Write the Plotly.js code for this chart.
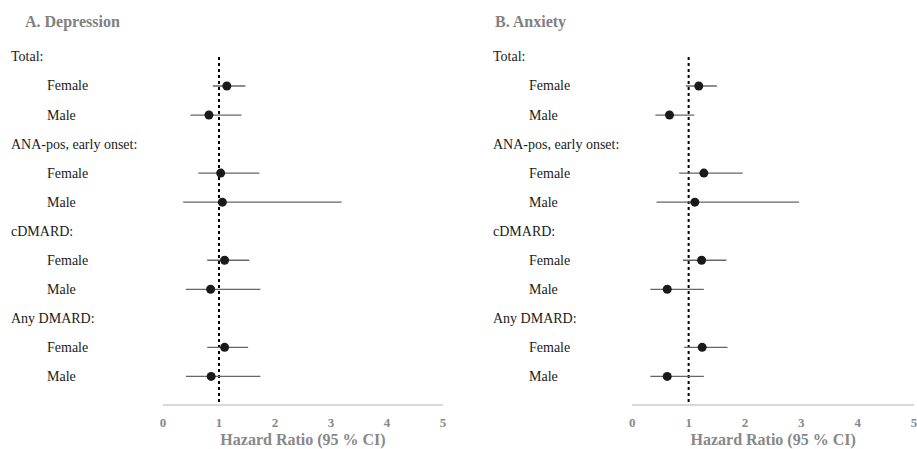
<!DOCTYPE html>
<html>
<head>
<meta charset="utf-8">
<script src="https://cdn.plot.ly/plotly-3.0.1.min.js"></script>
<style>html,body{margin:0;padding:0;background:#fff;}#chart{width:917px;height:449px;}</style>
</head>
<body>
<div id="chart"></div>
<script>
// ---- data ----
var panelTitles = ["A. Depression", "B. Anxiety"];
var groups = ["Total:", "ANA-pos, early onset:", "cDMARD:", "Any DMARD:"];
var sexes = ["Female", "Male"];
var axisTitle = "Hazard Ratio (95 % CI)";
var tickVals = [0, 1, 2, 3, 4, 5];
var refLine = 1;

// order: Total F, Total M, ANA F, ANA M, cDMARD F, cDMARD M, Any F, Any M
var depHR = [1.14, 0.82, 1.03, 1.06, 1.10, 0.85, 1.10, 0.86];
var depLo = [0.89, 0.49, 0.63, 0.36, 0.79, 0.41, 0.79, 0.41];
var depHi = [1.47, 1.40, 1.72, 3.19, 1.54, 1.74, 1.52, 1.74];

var anxHR = [1.18, 0.66, 1.27, 1.11, 1.23, 0.62, 1.24, 0.62];
var anxLo = [0.95, 0.41, 0.83, 0.43, 0.90, 0.32, 0.92, 0.32];
var anxHi = [1.50, 1.10, 1.96, 2.96, 1.67, 1.27, 1.69, 1.27];

// ---- build ----
var rowLabels = [], rowIsGroup = [], dataRows = [];
groups.forEach(function (g) {
  rowLabels.push(g); rowIsGroup.push(true);
  sexes.forEach(function (s) {
    dataRows.push(rowLabels.length);
    rowLabels.push(s); rowIsGroup.push(false);
  });
});
var yBottom = 11.95;

var W = 917, H = 449;
var panels = [
  {hr: depHR, lo: depLo, hi: depHi, xa: 'x', ya: 'y', dom: [163 / W, 443 / W],
   gx: 9 / W, sx: 45 / W, tx: 23 / W},
  {hr: anxHR, lo: anxLo, hi: anxHi, xa: 'x2', ya: 'y2', dom: [632.3 / W, 914 / W],
   gx: 491 / W, sx: 527 / W, tx: 493 / W}
];

var serif = "Liberation Serif";
var traces = [], annotations = [];
var layout = {
  width: W, height: H,
  margin: {l: 0, r: 0, t: 0, b: 0},
  paper_bgcolor: '#fff', plot_bgcolor: '#fff',
  showlegend: false,
  font: {family: serif, size: 14, color: '#1a1a1a'}
};

panels.forEach(function (p, k) {
  traces.push({
    type: 'scatter', mode: 'lines', xaxis: p.xa, yaxis: p.ya,
    x: [refLine, refLine], y: [0, yBottom],
    line: {color: '#000', width: 2, dash: 'dot'}, hoverinfo: 'skip'
  });
  traces.push({
    type: 'scatter', mode: 'markers', xaxis: p.xa, yaxis: p.ya,
    x: p.hr, y: dataRows,
    error_x: {type: 'data', symmetric: false,
      array: p.hi.map(function (v, i) { return v - p.hr[i]; }),
      arrayminus: p.lo.map(function (v, i) { return p.hr[i] - v; }),
      color: '#666', thickness: 1.3, width: 0},
    marker: {color: '#1a1a1a', size: 9}
  });
  var xk = k === 0 ? 'xaxis' : 'xaxis2';
  var yk = k === 0 ? 'yaxis' : 'yaxis2';
  layout[xk] = {
    domain: p.dom, range: [0, 5], anchor: p.ya,
    tickvals: tickVals, ticks: '', showgrid: false, zeroline: false,
    showline: true, linecolor: '#d9d9d9', linewidth: 1.5,
    tickfont: {family: serif, size: 13, color: '#888', weight: 'bold'},
    ticklabelstandoff: 6, ticklabeloverflow: 'allow',
    title: {text: axisTitle, standoff: 11, font: {family: serif, size: 16, color: '#888', weight: 'bold'}}
  };
  layout[yk] = {
    domain: [1 - 404 / H, 1 - 27.9 / H], range: [yBottom, -1], anchor: p.xa,
    showticklabels: false, ticks: '', showgrid: false, zeroline: false, showline: false
  };
  rowLabels.forEach(function (lab, i) {
    annotations.push({
      xref: 'paper', yref: p.ya, x: rowIsGroup[i] ? p.gx : p.sx, y: i,
      xanchor: 'left', yanchor: 'middle', showarrow: false, text: lab,
      font: {family: serif, size: 14, color: '#1a1a1a'}
    });
  });
  annotations.push({
    xref: 'paper', yref: 'paper', x: p.tx, y: 1 - 22 / H,
    xanchor: 'left', yanchor: 'middle', showarrow: false, text: '<b>' + panelTitles[k] + '</b>',
    font: {family: serif, size: 16, color: '#808080'}
  });
});
layout.annotations = annotations;

Plotly.newPlot('chart', traces, layout, {displayModeBar: false, staticPlot: true});
</script>
</body>
</html>
